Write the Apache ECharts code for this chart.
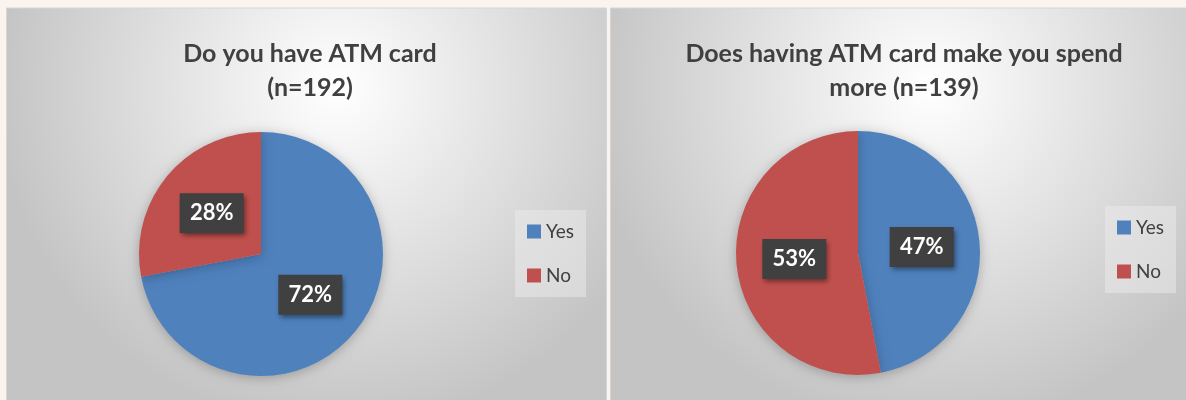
<!DOCTYPE html>
<html>
<head>
<meta charset="utf-8">
<script src="https://cdn.jsdelivr.net/npm/echarts@6/dist/echarts.min.js"></script>
<style>
  html, body { margin: 0; padding: 0; background: #fbf3ee; }
  #main { width: 1186px; height: 400px; }
</style>
</head>
<body>
<div id="main"></div>
<script>
// data
var categories = ['Yes', 'No'];
var atmCard = [72, 28];
var spendMore = [47, 53];
var titles = ['Do you have ATM card\n(n=192)', 'Does having ATM card make you spend\nmore (n=139)'];
var colors = ['#4f81bd', '#c0504d'];

function pieData(values) {
    return categories.map(function (c, i) {
        return { name: c, value: values[i] };
    });
}

function panelBg(x, w) {
    return {
        type: 'rect',
        silent: true,
        z: -10,
        shape: { x: x, y: 8, width: w, height: 400 },
        style: {
            fill: new echarts.graphic.RadialGradient(0.55, 0.2, 0.85, [
                { offset: 0, color: '#ffffff' },
                { offset: 1, color: '#c4c4c4' }
            ]),
            stroke: '#d6d6d6',
            lineWidth: 1
        }
    };
}

function legendFor(left, top) {
    return {
        orient: 'vertical',
        left: left,
        top: top,
        data: categories,
        itemWidth: 14,
        itemHeight: 14,
        itemGap: 25,
        icon: 'rect',
        padding: [12, 12, 12, 12],
        backgroundColor: 'rgba(235,235,235,0.5)',
        textStyle: { fontFamily: 'Lato', fontSize: 19, color: '#404040' }
    };
}

function pieSeries(values, center) {
    return {
        type: 'pie',
        radius: 122,
        center: center,
        startAngle: 90,
        clockwise: true,
        data: pieData(values),
        itemStyle: {
            borderWidth: 0,
            shadowBlur: 12,
            shadowColor: 'rgba(0,0,0,0.25)',
            shadowOffsetY: 2
        },
        label: {
            position: 'inside',
            formatter: '{c}%',
            fontFamily: 'Lato',
            fontWeight: 'bold',
            fontSize: 22,
            color: '#ffffff',
            backgroundColor: '#404040',
            width: 48,
            align: 'center',
            padding: [10, 8, 8, 8],
            shadowColor: 'rgba(0,0,0,0.45)',
            shadowBlur: 5,
            shadowOffsetX: 2,
            shadowOffsetY: 3
        },
        labelLine: { show: false },
        emphasis: { disabled: true }
    };
}

var myChart = echarts.init(document.getElementById('main'));

var titleText = { fontFamily: 'Lato', fontWeight: 'bold', fontSize: 25, color: '#404040', lineHeight: 34 };

var option = {
    animation: false,
    color: colors,
    graphic: [panelBg(6.5, 600), panelBg(610.5, 580)],
    title: [
        { text: titles[0], left: 305, top: 32, textAlign: 'center', textStyle: titleText },
        { text: titles[1], left: 899, top: 32, textAlign: 'center', textStyle: titleText }
    ],
    legend: [legendFor(515, 210), legendFor(1105, 206)],
    series: [
        pieSeries(atmCard, [261, 254]),
        pieSeries(spendMore, [858, 253])
    ]
};

myChart.setOption(option);
</script>
</body>
</html>
